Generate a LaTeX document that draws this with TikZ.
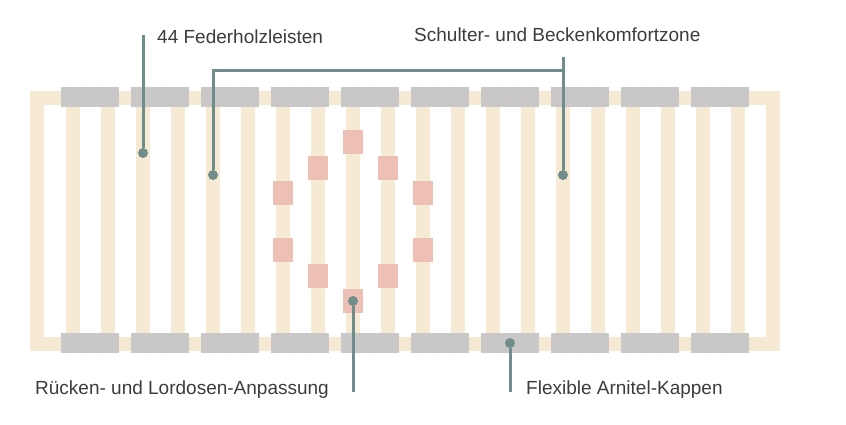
\documentclass[tikz,border=0pt]{standalone}
\usepackage{fontspec}
\setmainfont{Liberation Sans}
\usetikzlibrary{positioning}
\definecolor{wood}{HTML}{F7EAD4}
\definecolor{capgray}{HTML}{C9C7C8}
\definecolor{zone}{HTML}{EEC0B5}
\definecolor{lead}{HTML}{6F8E8B}
\definecolor{txt}{HTML}{3C3C3C}

\begin{document}
\begin{tikzpicture}[x=1pt,y=-1pt,
  slat/.style={fill=wood,minimum width=14pt,minimum height=246pt,inner sep=0pt},
  kappe/.style={fill=capgray,minimum width=58pt,minimum height=20pt,inner sep=0pt},
  pad/.style={fill=zone,minimum width=20pt,minimum height=24pt,inner sep=0pt},
  dot/.style={circle,fill=lead,minimum size=10pt,inner sep=0pt},
  leader/.style={draw=lead,line width=3pt},
  lbl/.style={font=\fontsize{19}{22}\selectfont,color=txt,inner sep=0pt,anchor=west}]
\useasboundingbox (0,0) rectangle (846,425);
% frame and slats
\draw[wood,line width=14pt] (37,98) rectangle (773,344);
\foreach \i in {0,...,19}
  \node[slat] (s\i) at ({73+35*\i},221) {};
% caps
\foreach \i in {0,...,9} {
  \node[kappe] (top\i) at ({90+70*\i},97) {};
  \node[kappe] (bot\i) at ({90+70*\i},343) {};
}
% comfort pads
\foreach \x/\y [count=\n] in {353/142,318/168,388/168,283/193,423/193,
                              283/250,423/250,318/276,388/276,353/301}
  \node[pad] (p\n) at (\x,\y) {};
% labels
\node[lbl] (leisten) at (157,37) {44 Federholzleisten};
\node[lbl] (zone) at (414,35) {Schulter- und Beckenkomfortzone};
\node[lbl] (ruecken) at (35,390) {Rücken- und Lordosen-Anpassung};
\node[lbl] (kappen) at (526,390) {Flexible Arnitel-Kappen};
% leaders
\node[dot] (d1) at (s2 |- 0,153) {};
\coordinate (e1) at (s2 |- 0,35);
\draw[leader] (e1) -- (d1);
\node[dot] (d2) at (s4 |- 0,175) {};
\node[dot] (d3) at (s14 |- 0,175) {};
\coordinate (e2) at (s14 |- 0,57);
\coordinate (knee) at (s14 |- 0,71);
\draw[leader] (d2) |- (knee);
\draw[leader] (e2) -- (d3);
\node[dot] (d4) at (p10) {};
\coordinate (e4) at (p10 |- 0,392);
\draw[leader] (d4) -- (e4);
\node[dot] (d5) at (bot6) {};
\coordinate (e5) at (bot6 |- 0,392);
\draw[leader] (d5) -- (e5);
\end{tikzpicture}
\end{document}
